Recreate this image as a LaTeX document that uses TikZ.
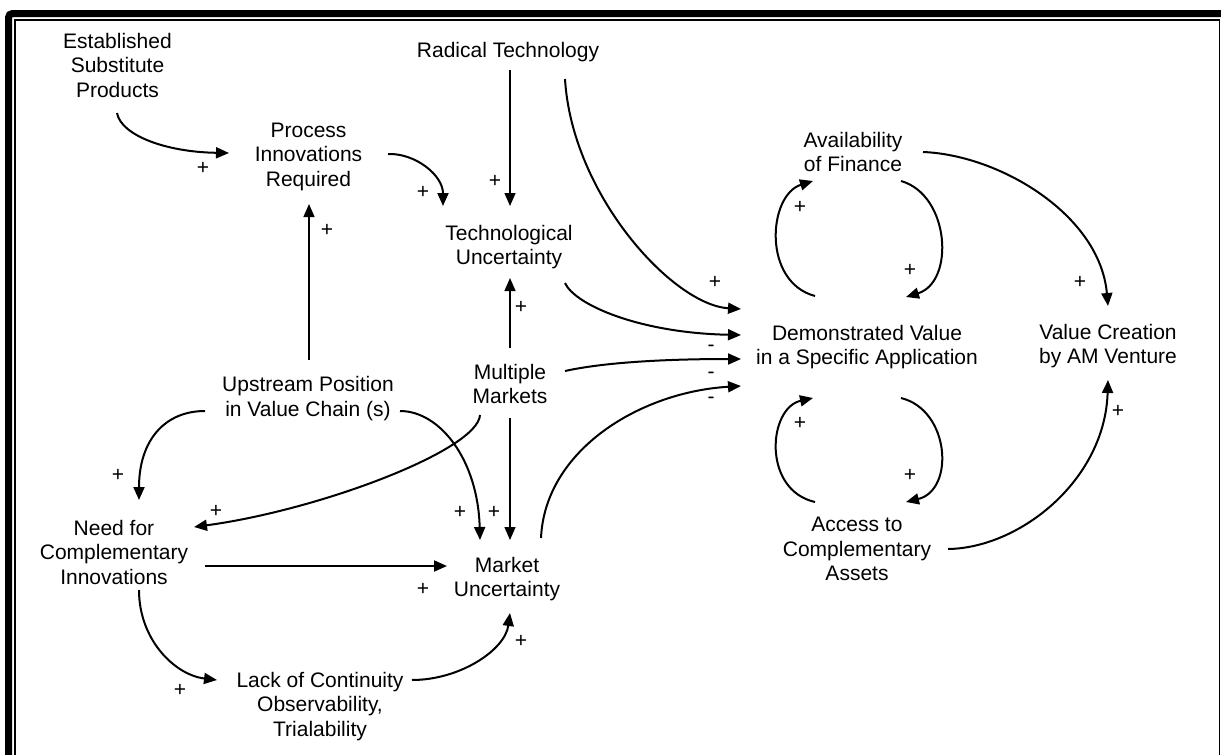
\documentclass[tikz,border=0pt]{standalone}
\usepackage{fontspec}
\setmainfont{Liberation Sans}
\usetikzlibrary{arrows.meta}
\begin{document}
\begin{tikzpicture}[x=1pt,y=-1pt,
  lbl/.style={align=center,inner sep=0pt,font=\fontsize{21}{24.5}\selectfont},
  sgn/.style={inner sep=0pt,font=\fontsize{21}{22}\selectfont},
  link/.style={line width=2pt,-{Triangle[length=13pt,width=11pt]}},
  thinlink/.style={line width=1.4pt,-{Triangle[length=13pt,width=11pt]}}]
\useasboundingbox (0,0) rectangle (1221,755);
% double frame (open at the bottom)
\draw[line width=7pt,rounded corners=4pt] (8.5,770) -- (8.5,13.5) -- (1235,13.5);
\draw[line width=1.5pt] (15,770) -- (15,20) -- (1219.5,20) -- (1219.5,770);

% variables
\node[lbl] (est)  at (117.5,65)  {Established\\Substitute\\Products};
\node[lbl] (proc) at (308.5,156.5) {Process\\Innovations\\Required};
\node[lbl] (rad)  at (508,52)    {Radical Technology};
\node[lbl] (tech) at (509,247)   {Technological\\Uncertainty};
\node[lbl] (mm)   at (510,384)   {Multiple\\Markets};
\node[lbl] (up)   at (308,398.5) {Upstream Position\\in Value Chain (s)};
\node[lbl] (need) at (114,552)   {Need for\\Complementary\\Innovations};
\node[lbl] (mu)   at (507,579)   {Market\\Uncertainty};
\node[lbl] (lack) at (320,706.5) {Lack of Continuity\\Observability,\\Trialability};
\node[lbl] (fin)  at (853,152)   {Availability\\of Finance};
\node[lbl] (demo) at (867,347)   {Demonstrated Value\\in a Specific Application};
\node[lbl] (vc)   at (1108,346)  {Value Creation\\by AM Venture};
\node[lbl] (acc)  at (857,549)   {Access to\\Complementary\\Assets};

% causal links
\draw[link] ([shift={(-0.5,48)}]est.center) .. controls (121,135) and (165,152) .. ([shift={(-79.5,-3.5)}]proc.center);
\draw[link] ([shift={(79.5,-2.5)}]proc.center) .. controls (415,153) and (443,175) .. ([shift={(-66,-41)}]tech.center);
\draw[thinlink] ([shift={(2,18)}]rad.center) -- ([shift={(1,-41)}]tech.center);
\draw[link] ([shift={(57,27)}]rad.center) .. controls (572,195) and (673,305) .. ([shift={(-126,-38)}]demo.center);
\draw[link] ([shift={(56,36)}]tech.center) .. controls (575,305) and (640,333) .. ([shift={(-126,-12)}]demo.center);
\draw[link] ([shift={(55,-13)}]mm.center) .. controls (610,361) and (680,359) .. ([shift={(-126,12)}]demo.center);
\draw[link] ([shift={(34,-41)}]mu.center) .. controls (545,450) and (640,392) .. ([shift={(-126,39)}]demo.center);
\draw[thinlink] ([shift={(0,-36)}]mm.center) -- ([shift={(1,31)}]tech.center);
\draw[thinlink] ([shift={(1,-38.5)}]up.center) -- ([shift={(0.5,47.5)}]proc.center);
\draw[link] ([shift={(-103,12.5)}]up.center) .. controls (165,411) and (139,440) .. ([shift={(25,-52)}]need.center);
\draw[link] ([shift={(92,12.5)}]up.center) .. controls (440,411) and (478,460) .. ([shift={(-27,-39)}]mu.center);
\draw[link] ([shift={(-30,31)}]mm.center) .. controls (478,450) and (320,510) .. ([shift={(80,-25)}]need.center);
\draw[thinlink] ([shift={(0,34)}]mm.center) -- ([shift={(3,-39)}]mu.center);
\draw[link] ([shift={(91,14)}]need.center) -- ([shift={(-60,-13)}]mu.center);
\draw[link] ([shift={(25,38)}]need.center) .. controls (139,640) and (175,675) .. ([shift={(-103,-26.5)}]lack.center);
\draw[link] ([shift={(92,-26.5)}]lack.center) .. controls (460,680) and (505,650) .. ([shift={(3,34)}]mu.center);
\draw[link] ([shift={(-52,-51)}]demo.center) .. controls (762,282) and (768,195) .. ([shift={(-40,29)}]fin.center);
\draw[link] ([shift={(48,29)}]fin.center) .. controls (950,195) and (955,282) .. ([shift={(39,-50)}]demo.center);
\draw[link] ([shift={(-42,-47)}]acc.center) .. controls (762,490) and (768,408) .. ([shift={(-54,51)}]demo.center);
\draw[link] ([shift={(34,51)}]demo.center) .. controls (950,410) and (955,490) .. ([shift={(49,-47)}]acc.center);
\draw[link] ([shift={(70,0)}]fin.center) .. controls (1000,155) and (1100,215) .. ([shift={(0,-40)}]vc.center);
\draw[link] ([shift={(91,0)}]acc.center) .. controls (1020,548) and (1105,480) .. ([shift={(0,34)}]vc.center);

% link polarities
\node[sgn] (s1)  at (203,168)  {+};
\node[sgn] (s2)  at (423,192)  {+};
\node[sgn] (s3)  at (495,181)  {+};
\node[sgn] (s4)  at (715,282)  {+};
\node[sgn] (s5)  at (521,307)  {+};
\node[sgn] (s6)  at (327,230)  {+};
\node[sgn] (s7)  at (118,475)  {+};
\node[sgn] (s8)  at (460,512)  {+};
\node[sgn] (s9)  at (216,511)  {+};
\node[sgn] (s10) at (494,512)  {+};
\node[sgn] (s11) at (423,589)  {+};
\node[sgn] (s12) at (180,690)  {+};
\node[sgn] (s13) at (521,641)  {+};
\node[sgn] (s14) at (800,207)  {+};
\node[sgn] (s15) at (910,270)  {+};
\node[sgn] (s16) at (800,423)  {+};
\node[sgn] (s17) at (910,475)  {+};
\node[sgn] (s18) at (1080,282) {+};
\node[sgn] (s19) at (1118,411) {+};
\node[sgn] (m1)  at (711,348)  {-};
\node[sgn] (m2)  at (711,375)  {-};
\node[sgn] (m3)  at (711,400)  {-};
\end{tikzpicture}
\end{document}
